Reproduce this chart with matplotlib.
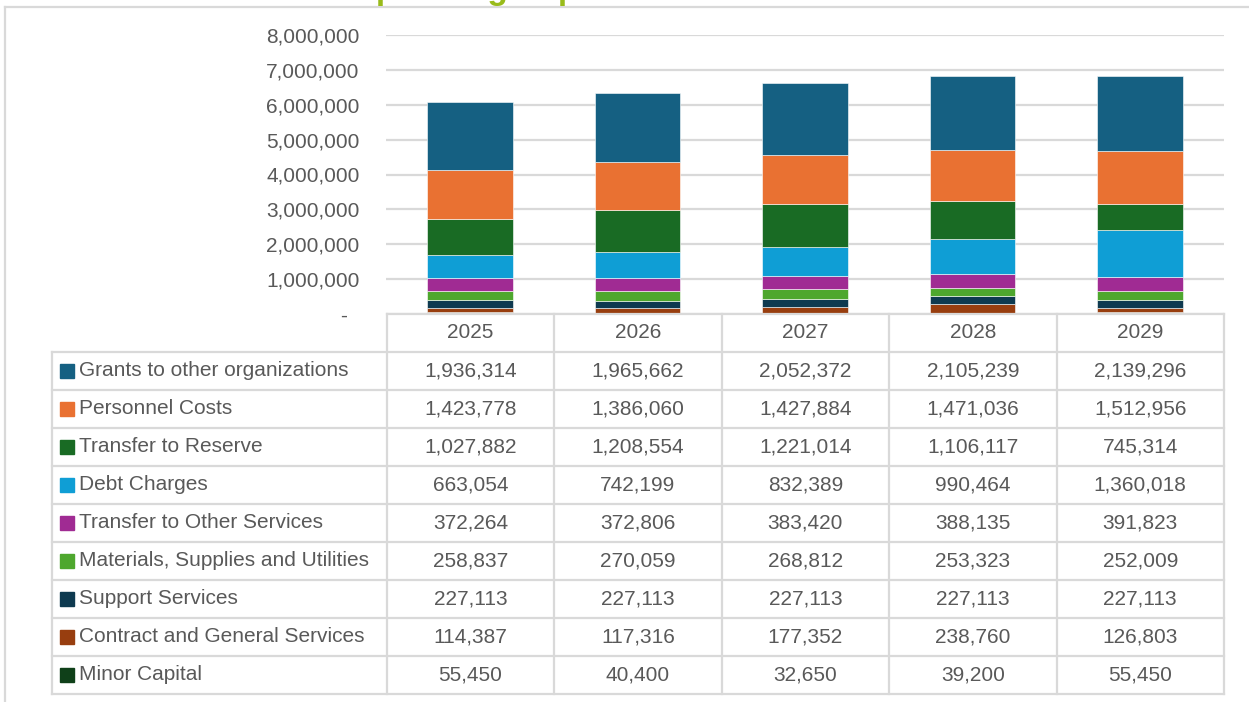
import matplotlib
matplotlib.use("Agg")
import matplotlib.pyplot as plt
from matplotlib.lines import Line2D

# data (table order, top row first)
years = ["2025", "2026", "2027", "2028", "2029"]
categories = [
    "Grants to other organizations",
    "Personnel Costs",
    "Transfer to Reserve",
    "Debt Charges",
    "Transfer to Other Services",
    "Materials, Supplies and Utilities",
    "Support Services",
    "Contract and General Services",
    "Minor Capital",
]
grants = [1936314, 1965662, 2052372, 2105239, 2139296]
personnel = [1423778, 1386060, 1427884, 1471036, 1512956]
reserve = [1027882, 1208554, 1221014, 1106117, 745314]
debt = [663054, 742199, 832389, 990464, 1360018]
transfer_other = [372264, 372806, 383420, 388135, 391823]
materials = [258837, 270059, 268812, 253323, 252009]
support = [227113, 227113, 227113, 227113, 227113]
contract = [114387, 117316, 177352, 238760, 126803]
minor_capital = [55450, 40400, 32650, 39200, 55450]
series = [grants, personnel, reserve, debt, transfer_other,
          materials, support, contract, minor_capital]
colors = ["#156082", "#E97132", "#196B24", "#0F9ED5", "#A02B93",
          "#4EA72E", "#0E3A50", "#983E0F", "#0F4019"]
yticks = [0, 1000000, 2000000, 3000000, 4000000, 5000000, 6000000, 7000000, 8000000]

W, H = 1249, 702
grey = "#D9D9D9"
txt = "#595959"
font = "Liberation Sans"
fs = 15

fig = plt.figure(figsize=(W / 100, H / 100), dpi=100)

def px(x0, y0, x1, y1):
    # pixel box (top-left origin) -> figure fraction rect
    return [x0 / W, 1 - y1 / H, (x1 - x0) / W, (y1 - y0) / H]

# frame
fig.add_artist(Line2D([5 / W, 1], [1 - 7 / H, 1 - 7 / H], color=grey, lw=1.6, transform=fig.transFigure))
fig.add_artist(Line2D([5 / W, 5 / W], [0, 1 - 7 / H], color=grey, lw=1.6, transform=fig.transFigure))

# title, mostly cut off at the top (as in the reference)
fig.text(350 / W, 1 + 1.5 / H, "Operating Expenditures", color="#99BB1A",
         fontsize=24, fontweight="bold", family=font, va="baseline", ha="left")

# bar chart
ax = fig.add_axes(px(386, 35, 1224, 314))
x = list(range(len(years)))
bottom = [0] * len(years)
for vals, c in zip(series[::-1], colors[::-1]):
    ax.bar(x, vals, bottom=bottom, width=0.51, color=c, edgecolor="white", linewidth=0.4, zorder=3)
    bottom = [b + v for b, v in zip(bottom, vals)]
ax.set_xlim(-0.5, 4.5)
ax.set_ylim(0, 8000000)
ax.set_yticks(yticks)
ax.set_yticklabels(["-  "] + [f"{v:,}" for v in yticks[1:]], family=font, fontsize=fs, color=txt)
ax.tick_params(axis="y", length=0, pad=19)
ax.set_xticks([])
for s in ax.spines.values():
    s.set_visible(False)
ax.grid(axis="y", color=grey, lw=1.6, zorder=0)

# data table
tb = fig.add_axes(px(52, 314, 1224, 694))
tb.set_xlim(-2.5, 4.5)
tb.set_ylim(10, 0)
tb.axis("off")
lk = dict(color=grey, lw=1.6, clip_on=False, solid_capstyle="projecting")
tb.plot([-0.5, 4.5], [0, 0], **lk)
for r in range(1, 11):
    tb.plot([-2.5, 4.5], [r, r], **lk)
for c in range(6):
    tb.plot([c - 0.5, c - 0.5], [0, 10], **lk)
tb.plot([-2.5, -2.5], [1, 10], **lk)

for i, yr in enumerate(years):
    tb.text(i, 0.5, yr, ha="center", va="center", family=font, fontsize=fs, color=txt)
for r, (name, vals, c) in enumerate(zip(categories, series, colors)):
    yy = r + 1.5
    tb.plot([-2.5 + 15 / 167.5], [yy], marker="s", markersize=10, color=c, clip_on=False)
    tb.text(-2.5 + 27 / 167.5, yy, name, ha="left", va="center", family=font, fontsize=fs, color=txt)
    for i, v in enumerate(vals):
        tb.text(i, yy, f"{v:,}", ha="center", va="center", family=font, fontsize=fs, color=txt)

fig.savefig("out.png", dpi=100)
